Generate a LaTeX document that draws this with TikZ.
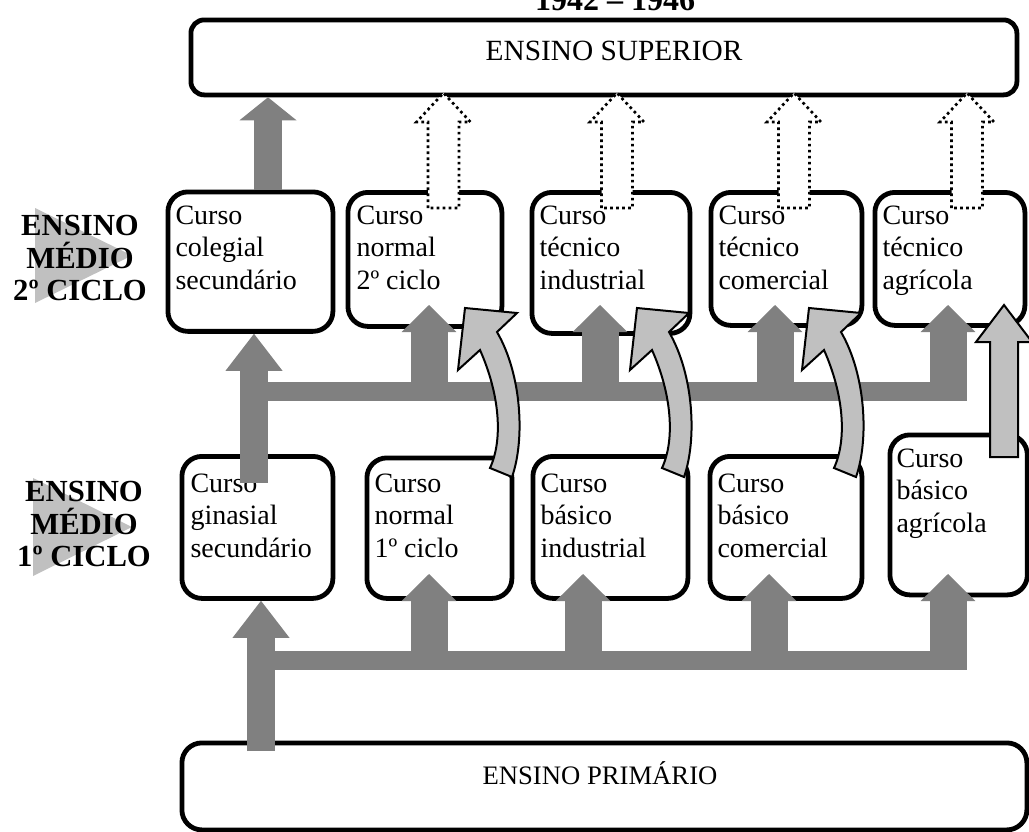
\documentclass[tikz,border=0pt]{standalone}
\usepackage{fontspec}
\setmainfont{Liberation Serif}
\usetikzlibrary{arrows.meta}
\definecolor{darkarrow}{RGB}{128,128,128}
\definecolor{lightarrow}{RGB}{192,192,192}
\tikzset{every picture/.style={line width=0.75pt}}

\begin{document}
\begin{tikzpicture}[x=0.75pt,y=0.75pt,yscale=-1,xscale=1,
  cbox/.style={draw, line width=3.6pt, rounded corners=15pt, inner sep=0pt, anchor=north west},
  boxtext/.style={anchor=north west, align=left, inner sep=0pt, font=\fontsize{21pt}{24.4pt}\selectfont},
  cyclelbl/.style={anchor=north, align=center, inner sep=0pt, font=\bfseries\fontsize{23pt}{24.4pt}\selectfont},
  mainarrow/.style={draw=darkarrow, line width=21pt, -{Triangle[line width=0pt, length=#1, width=42.75pt]}},
  mainarrow/.default=27.75pt,
  gbar/.style={draw=darkarrow, line width=14.25pt},
  gbranch/.style={draw=darkarrow, line width=27.75pt, -{Triangle[line width=0pt, length=20.25pt, width=41pt]}},
  dotarrow/.style={draw, fill=white, line width=2pt, dash pattern=on 2pt off 2.5pt},
  bendarrow/.style={draw, fill=lightarrow, line width=1.5pt, line join=miter}
]
\useasboundingbox (0,0) rectangle (1029,832);
%Shape: Triangles behind the level names
\fill[lightarrow] (35,208) -- (132,255.5) -- (35,303) -- cycle;
\fill[lightarrow] (33,478) -- (132,527) -- (33,576) -- cycle;
% Text Node
\node[cyclelbl] (em2) at (80,215) {ENSINO\\MÉDIO\\2º CICLO};
% Text Node
\node[cyclelbl] (em1) at (84,481) {ENSINO\\MÉDIO\\1º CICLO};
% Text Node
\node[font=\bfseries\fontsize{24pt}{26pt}\selectfont, anchor=base, inner sep=0pt] (years) at (615,10) {1942 – 1946};

%Shape: Rounded Rect (superior)
\node[cbox, rounded corners=10pt, minimum width=619.5pt, minimum height=56.25pt] (sup) at (188.5,17.5) {};
\node[font=\fontsize{22pt}{24pt}\selectfont, anchor=base, inner sep=0pt] (suptxt) at (614,60) {ENSINO SUPERIOR};
%Shape: Rounded Rect (2o ciclo)
\node[cbox, minimum width=123.75pt, minimum height=104.6pt] (m2a) at (165.5,189.5) {};
\node[cbox, minimum width=115.5pt, minimum height=100.5pt] (m2b) at (345.5,190) {};
\node[cbox, minimum width=118.5pt, minimum height=105.75pt] (m2c) at (529.5,190) {};
\node[cbox, minimum width=113.25pt, minimum height=99.75pt] (m2d) at (708.5,190) {};
\node[cbox, minimum width=112.5pt, minimum height=99.75pt] (m2e) at (872.5,190) {};
%Shape: Rounded Rect (1o ciclo)
\node[cbox, minimum width=113.25pt, minimum height=106.5pt] (m1a) at (179.5,454) {};
\node[cbox, minimum width=108.75pt, minimum height=105.4pt] (m1b) at (364.5,455.5) {};
\node[cbox, minimum width=116.25pt, minimum height=106.5pt] (m1c) at (530.5,454) {};
\node[cbox, minimum width=114pt, minimum height=106.5pt] (m1d) at (707.5,454) {};
\node[cbox, minimum width=103.1pt, minimum height=120pt] (m1e) at (887.5,432.5) {};
%Shape: Rounded Rect (primario)
\node[cbox, minimum width=633.75pt, minimum height=65.25pt] (prim) at (179.5,740.5) {};
\node[font=\fontsize{20pt}{24pt}\selectfont, anchor=base, inner sep=0pt] (primtxt) at (600,784) {ENSINO PRIMÁRIO};

% Text Nodes
\node[boxtext] (t2a) at (175,205) {Curso\\colegial\\secundário};
\node[boxtext] (t2b) at (356,205) {Curso\\normal\\2º ciclo};
\node[boxtext] (t2c) at (539,205) {Curso\\técnico\\industrial};
\node[boxtext] (t2d) at (718,205) {Curso\\técnico\\comercial};
\node[boxtext] (t2e) at (882,205) {Curso\\técnico\\agrícola};
\node[boxtext] (t1a) at (190,473) {Curso\\ginasial\\secundário};
\node[boxtext] (t1b) at (374,473) {Curso\\normal\\1º ciclo};
\node[boxtext] (t1c) at (540,473) {Curso\\básico\\industrial};
\node[boxtext] (t1d) at (717,473) {Curso\\básico\\comercial};
\node[boxtext] (t1e) at (896,448) {Curso\\básico\\agrícola};

% colegial -> superior
\coordinate (c0) at (268,190);
\draw[mainarrow=17.25pt] (c0) -- (c0 |- sup.south);
% primario -> 1o ciclo
\coordinate (l0) at (261,751);
\coordinate (lbar) at (261,660);
\coordinate (lend) at (967,660);
\coordinate (ltip) at (0,574);
\coordinate (lb1) at (429,669);
\coordinate (lb2) at (583,669);
\coordinate (lb3) at (769,669);
\coordinate (lb4) at (948,669);
\draw[mainarrow] (l0) -- (l0 |- m1a.south);
\draw[gbar] (lbar) -- (lend);
\draw[gbranch] (lb1) -- (lb1 |- ltip);
\draw[gbranch] (lb2) -- (lb2 |- ltip);
\draw[gbranch] (lb3) -- (lb3 |- ltip);
\draw[gbranch] (lb4) -- (lb4 |- ltip);
% ginasial -> 2o ciclo
\coordinate (u0) at (254,483);
\coordinate (ubar) at (254,391);
\coordinate (uend) at (967,391);
\coordinate (utip) at (0,305);
\coordinate (ub1) at (429,400);
\coordinate (ub2) at (600,400);
\coordinate (ub3) at (775,400);
\coordinate (ub4) at (948,400);
\draw[mainarrow] (u0) -- (u0 |- m2a.south);
\draw[gbar] (ubar) -- (uend);
\draw[gbranch] (ub1) -- (ub1 |- utip);
\draw[gbranch] (ub2) -- (ub2 |- utip);
\draw[gbranch] (ub3) -- (ub3 |- utip);
\draw[gbranch] (ub4) -- (ub4 |- utip);

%Shape: Dotted up arrows
\draw[dotarrow] (428,208) -- (428,122) -- (416.5,122) -- (443.5,93) -- (470.5,122) -- (459,122) -- (459,208) -- cycle;
\draw[dotarrow] (601.5,208) -- (601.5,122) -- (590,122) -- (617,93) -- (644,122) -- (632.5,122) -- (632.5,208) -- cycle;
\draw[dotarrow] (778.5,208) -- (778.5,122) -- (767,122) -- (794,93) -- (821,122) -- (809.5,122) -- (809.5,208) -- cycle;
\draw[dotarrow] (951.5,208) -- (951.5,122) -- (940,122) -- (967,93) -- (994,122) -- (982.5,122) -- (982.5,208) -- cycle;

%Shape: Curved arrows
\draw[bendarrow] (490,468) .. controls (503,440) and (500,395) .. (480,350) -- (458,370) -- (465,308) -- (517,313) -- (497,332) .. controls (522,375) and (525,440) .. (512,477) -- cycle;
\draw[bendarrow] (662,468) .. controls (675,440) and (672,395) .. (652,350) -- (630,370) -- (637,308) -- (689,313) -- (669,332) .. controls (694,375) and (697,440) .. (684,477) -- cycle;
\draw[bendarrow] (834,468) .. controls (847,440) and (844,395) .. (824,350) -- (802,370) -- (809,308) -- (861,313) -- (841,332) .. controls (866,375) and (869,440) .. (856,477) -- cycle;
%Shape: Up arrow (agricola)
\draw[bendarrow] (990,457) -- (990,342) -- (976,342) -- (1004,305) -- (1032,342) -- (1018,342) -- (1018,457) -- cycle;
\end{tikzpicture}
\end{document}
